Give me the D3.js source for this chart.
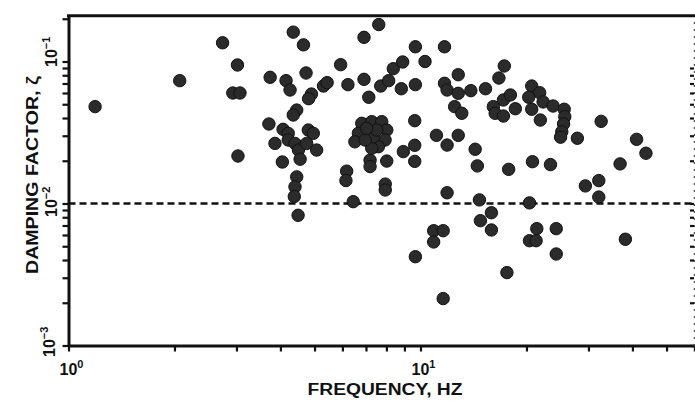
<!DOCTYPE html>
<html>
<head>
<meta charset="utf-8">
<script src="https://cdn.jsdelivr.net/npm/d3@7"></script>
<style>
  html, body { margin: 0; padding: 0; background: #fff; }
  svg { display: block; }
  text { font-family: "Liberation Sans", Arial, "DejaVu Sans", sans-serif; font-weight: bold; fill: #111; }
</style>
</head>
<body>
<svg id="chart" width="695" height="403"></svg>
<script>
// ---- data ----
const freqHz = [
  1.19, 2.07, 2.74, 3.02, 2.93, 3.07, 3.03, 4.35, 4.65, 7.61,
  6.91, 3.74, 4.15, 4.26, 4.73, 4.90, 4.81, 5.30, 5.43, 5.93,
  6.22, 6.91, 7.13, 7.71, 8.12, 8.37, 8.90, 8.82, 9.67, 9.67,
  10.3, 11.7, 12.8, 11.7, 11.9, 12.8, 13.9, 15.3, 17.3, 16.7,
  12.5, 13.1, 16.1, 16.3, 17.2, 18.0, 17.2, 18.6, 20.7, 21.8,
  20.3, 22.3, 23.8, 25.6, 25.7, 25.5, 25.2, 25.0, 20.7, 21.9,
  27.9, 12.8, 11.9, 14.3, 11.1, 9.63, 9.63, 9.63, 8.94, 8.02,
  7.19, 7.19, 6.17, 6.14, 7.94, 7.94, 11.9, 6.81, 7.27, 7.76,
  8.02, 7.93, 7.59, 7.27, 7.34, 6.66, 6.51, 6.96, 7.51, 7.03,
  3.71, 4.07, 4.21, 4.21, 4.40, 4.50, 4.80, 4.96, 4.75, 5.07,
  3.86, 4.05, 4.55, 4.45, 4.40, 4.38, 4.49, 4.45, 4.35, 14.5,
  17.8, 20.8, 23.4, 14.7, 32.6, 41.1, 43.7, 36.9, 32.1, 29.4,
  32.1, 6.44, 9.67, 10.9, 11.6, 10.9, 11.6, 15.9, 14.8, 15.9,
  20.4, 21.4, 20.4, 21.3, 24.3, 24.3, 17.6, 38.2
];
const dampingFactor = [
  0.0481, 0.0733, 0.1355, 0.0945, 0.060, 0.060, 0.0216, 0.161, 0.131, 0.182,
  0.148, 0.0774, 0.0733, 0.063, 0.083, 0.059, 0.0547, 0.0672, 0.071, 0.095,
  0.0687, 0.0749, 0.056, 0.0672, 0.0733, 0.089, 0.0992, 0.0643, 0.127, 0.0687,
  0.100, 0.127, 0.0807, 0.0702, 0.063, 0.0597, 0.0623, 0.0643, 0.093, 0.0765,
  0.0481, 0.0432, 0.0481, 0.0432, 0.0536, 0.0581, 0.0413, 0.0465, 0.0672, 0.0603,
  0.056, 0.0519, 0.0486, 0.0461, 0.0409, 0.0363, 0.032, 0.0293, 0.0461, 0.0387,
  0.0288, 0.0302, 0.0258, 0.0241, 0.0302, 0.0257, 0.0198, 0.0383, 0.0232, 0.0199,
  0.0202, 0.0182, 0.0169, 0.0145, 0.0137, 0.01245, 0.0119, 0.0367, 0.0377, 0.0377,
  0.0329, 0.028, 0.0251, 0.0245, 0.0295, 0.0312, 0.0272, 0.028, 0.0329, 0.0338,
  0.0363, 0.0333, 0.0312, 0.028, 0.0265, 0.0238, 0.0329, 0.0312, 0.0265, 0.0238,
  0.0265, 0.0196, 0.0205, 0.0154, 0.0131, 0.0112, 0.00826, 0.0455, 0.042, 0.0184,
  0.0174, 0.0197, 0.0188, 0.0106, 0.0379, 0.0283, 0.0226, 0.019, 0.0145, 0.0133,
  0.0111, 0.0103, 0.00422, 0.00643, 0.00643, 0.00536, 0.00214, 0.00861, 0.00757, 0.00651,
  0.0101, 0.00665, 0.00547, 0.00547, 0.00665, 0.00441, 0.00326, 0.0056
];
const referenceDamping = 0.01;               // dashed line
const xDomain = [1, 60];
const yDomain = [0.001, 0.21];
const xTickValues = [1,2,3,4,5,6,7,8,9,10,20,30,40,50,60];
const yTickValues = [0.001,0.002,0.003,0.004,0.005,0.006,0.007,0.008,0.009,
                     0.01,0.02,0.03,0.04,0.05,0.06,0.07,0.08,0.09,0.1,0.2];
const xLabelTicks = [{v: 1, exp: "0"}, {v: 10, exp: "1"}];
const yLabelTicks = [{v: 0.1, exp: "\u22121"}, {v: 0.01, exp: "\u22122"}, {v: 0.001, exp: "\u22123"}];
const xTitle = "FREQUENCY, HZ";
const yTitle = "DAMPING FACTOR, \u03B6";

// ---- layout ----
const leftX = 68.5, bottomY = 345.5, decadeX = 352, decadeY = 142, rightX = 694;
const yLabelShift = [5.5, 13.5, 11.5];   // where each rotated label starts, below its tick
const yLabelX = [57, 57, 55];
const x = d3.scaleLog().domain(xDomain)
  .range([leftX, leftX + decadeX * Math.log10(xDomain[1] / xDomain[0])]);
const y = d3.scaleLog().domain(yDomain)
  .range([bottomY, bottomY - decadeY * Math.log10(yDomain[1] / yDomain[0])]);
const plotTop = y(yDomain[1]);

const svg = d3.select("#chart");

// bottom axis
const gx = svg.append("g").attr("transform", `translate(0,${bottomY})`)
  .call(d3.axisBottom(x).tickValues(xTickValues).tickFormat("").tickSize(6).tickSizeOuter(0));
gx.select(".domain").attr("stroke", "#111").attr("stroke-width", 3);
gx.selectAll(".tick line").attr("stroke", "#111").attr("stroke-width", 2.2);

// left axis
const gy = svg.append("g").attr("transform", `translate(${leftX},0)`)
  .call(d3.axisLeft(y).tickValues(yTickValues).tickFormat("").tickSize(6).tickSizeOuter(0));
gy.select(".domain").attr("stroke", "#111").attr("stroke-width", 3);
gy.selectAll(".tick line").attr("stroke", "#111").attr("stroke-width", 2.2);

// right axis (faint, ticks pointing inward)
const gr = svg.append("g").attr("transform", `translate(${rightX},0)`)
  .call(d3.axisLeft(y).tickValues(yTickValues.filter(v => v < 0.1)).tickFormat("").tickSize(4).tickSizeOuter(0));
gr.select(".domain").attr("stroke", "#555").attr("stroke-width", 1.5).attr("stroke-dasharray", "2,5");
gr.selectAll(".tick line").attr("stroke", "#111").attr("stroke-width", 2.2);

// top border
svg.append("line")
  .attr("x1", leftX - 1.5).attr("x2", 695).attr("y1", plotTop).attr("y2", plotTop)
  .attr("stroke", "#111").attr("stroke-width", 3);

// dashed reference line at zeta = 0.01
svg.append("line")
  .attr("x1", leftX).attr("x2", 695)
  .attr("y1", y(referenceDamping)).attr("y2", y(referenceDamping))
  .attr("stroke", "#111").attr("stroke-width", 2.5).attr("stroke-dasharray", "7,4");

// points
const pts = freqHz.map((f, i) => ({f, z: dampingFactor[i]}));
svg.append("g").selectAll("circle").data(pts).join("circle")
  .attr("cx", d => x(d.f)).attr("cy", d => y(d.z)).attr("r", 6.2)
  .attr("fill", "#2b2b2b").attr("stroke", "#111").attr("stroke-width", 1);

// x tick labels
xLabelTicks.forEach(t => {
  const txt = svg.append("text").attr("x", x(t.v) + 3).attr("y", 375)
    .attr("text-anchor", "middle").attr("font-size", 16);
  txt.append("tspan").text("10");
  txt.append("tspan").attr("dy", -7).attr("font-size", 11).text(t.exp);
});

// y tick labels (rotated)
yLabelTicks.forEach((t, i) => {
  const yy = y(t.v) + yLabelShift[i];
  const txt = svg.append("text")
    .attr("transform", `translate(${yLabelX[i]},${yy}) rotate(-90)`)
    .attr("text-anchor", "start").attr("font-size", 16);
  txt.append("tspan").text("10");
  txt.append("tspan").attr("dy", -7).attr("font-size", 11).text(t.exp);
});

// axis titles
svg.append("text").attr("x", 385).attr("y", 395)
  .attr("text-anchor", "middle").attr("font-size", 16)
  .attr("textLength", 155).attr("lengthAdjust", "spacingAndGlyphs")
  .text(xTitle);
svg.append("text")
  .attr("transform", "translate(38,274) rotate(-90)")
  .attr("font-size", 16)
  .attr("textLength", 198).attr("lengthAdjust", "spacingAndGlyphs")
  .text(yTitle);
</script>
</body>
</html>
